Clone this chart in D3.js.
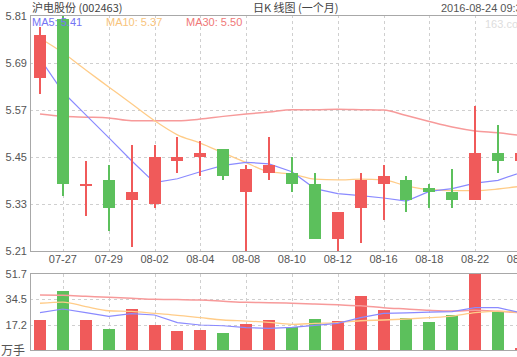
<!DOCTYPE html>
<html><head><meta charset="utf-8">
<script src="https://cdn.jsdelivr.net/npm/d3@7/dist/d3.min.js"></script>
<style>body{margin:0;background:#fff;overflow:hidden}svg{display:block}</style>
</head><body>
<svg id="c" width="517" height="357"></svg>
<script>
const dates = ["07-26","07-27","07-28","07-29","08-01","08-02","08-03","08-04","08-05","08-08","08-09","08-10","08-11","08-12","08-15","08-16","08-17","08-18","08-19","08-22","08-23","08-24"];
const tickDates = ["07-27","07-29","08-02","08-04","08-08","08-10","08-12","08-16","08-18","08-22","08-24"];
const open  = [5.65,5.80,5.38,5.39,5.34,5.33,5.44,5.45,5.47,5.36,5.41,5.41,5.38,5.24,5.32,5.38,5.39,5.37,5.36,5.34,5.46,5.44];
const close = [5.76,5.38,5.38,5.32,5.36,5.45,5.45,5.46,5.40,5.42,5.43,5.38,5.24,5.31,5.39,5.40,5.34,5.36,5.34,5.46,5.44,5.46];
const high  = [5.78,5.81,5.44,5.43,5.48,5.48,5.50,5.49,5.47,5.43,5.50,5.45,5.41,5.31,5.41,5.43,5.40,5.38,5.42,5.58,5.53,5.47];
const low   = [5.61,5.35,5.30,5.26,5.22,5.32,5.41,5.40,5.39,5.21,5.39,5.36,5.24,5.21,5.23,5.29,5.31,5.32,5.32,5.34,5.41,5.43];
const ma5   = [5.700,5.615,5.557,5.499,5.440,5.384,5.394,5.412,5.428,5.436,5.432,5.412,5.369,5.356,5.351,5.345,5.337,5.362,5.369,5.383,5.390,5.410];
const ma10  = [5.752,5.715,5.671,5.628,5.585,5.542,5.506,5.485,5.460,5.435,5.412,5.406,5.393,5.391,5.393,5.391,5.376,5.366,5.364,5.364,5.368,5.375];
const ma30  = [5.559,5.553,5.551,5.549,5.542,5.542,5.542,5.546,5.553,5.559,5.564,5.570,5.570,5.571,5.570,5.569,5.555,5.540,5.526,5.516,5.511,5.504];
const volume  = [20.4,40.1,20.4,14.3,27.9,17.0,12.9,13.6,11.6,17.7,20.4,15.4,21.1,19.7,36.7,27.2,21.8,19.0,23.8,51.7,26.5,1.5];
const volMa5  = [25.4,27.9,25.4,22.9,24.7,23.8,18.6,17.0,16.5,15.2,14.7,15.4,16.8,18.1,22.0,24.9,25.2,25.8,26.1,28.8,28.8,25.4];
const volMa10 = [31.8,32.6,29.5,26.7,26.3,24.9,23.6,22.0,20.4,19.7,18.8,17.5,18.1,18.6,19.9,20.4,21.1,22.0,23.1,25.4,26.5,25.4];
const volMa30 = [37.4,37.2,36.5,35.8,35.2,34.5,34.3,34.0,33.2,32.4,32.2,31.8,31.3,30.7,30.1,28.8,27.9,27.0,26.5,27.0,26.3,25.4];
const priceTicks = [5.81,5.69,5.57,5.45,5.33,5.21];
const volTicks = [51.7,34.5,17.2];
const title = "沪电股份 (002463)";
const subtitle = "日K 线图 (一个月)";
const stamp = "2016-08-24 09:35";
const legend = [["MA5: 5.41","#7474f4"],["MA10: 5.37","#f8c47c"],["MA30: 5.50","#f07878"]];

const RED="#f05a5a", GREEN="#5cc05c";
const C5="#8a8aff", C10="#ffcc88", C30="#f79a9a";
const font = "'Liberation Sans', Arial, sans-serif";
const cjk = "'Noto Sans CJK SC', sans-serif";

const svg = d3.select("#c");
const L = 30, R = 517;
const x = d3.scalePoint().domain(dates).range([40, 40 + 21*22.9]);
const y = d3.scaleLinear().domain([5.21,5.81]).range([251,15.5]);
const yv = d3.scaleLinear().domain([0,51.7]).range([350,274]);
const bw = 12;

// grid
const grid = svg.append("g").attr("stroke","#cfcfcf").attr("stroke-dasharray","3,3").attr("shape-rendering","crispEdges");
priceTicks.slice(1,-1).forEach(t=>grid.append("line").attr("x1",L).attr("x2",R).attr("y1",Math.round(y(t))+0.5).attr("y2",Math.round(y(t))+0.5));
volTicks.slice(1).forEach(t=>grid.append("line").attr("x1",L).attr("x2",R).attr("y1",Math.round(yv(t))+0.5).attr("y2",Math.round(yv(t))+0.5));
tickDates.forEach(d=>{
  const xx = Math.round(x(d))+0.5;
  grid.append("line").attr("x1",xx).attr("x2",xx).attr("y1",15).attr("y2",251);
  grid.append("line").attr("x1",xx).attr("x2",xx).attr("y1",274).attr("y2",350);
});

// frames
const fr = svg.append("g").attr("stroke","#a8a8a8").attr("shape-rendering","crispEdges");
fr.append("path").attr("fill","none").attr("d",`M${R},15.5H${L+0.5}V251.5H${R}`);
fr.append("path").attr("fill","none").attr("d",`M${R},273.5H${L+0.5}V350.5H${R}`);

// MA lines price
const line = (arr, sc, curve) => d3.line().x((d,i)=>x(dates[i])).y(d=>sc(d)).curve(curve)(arr);
svg.append("path").attr("d",line(ma30,y,d3.curveMonotoneX)).attr("fill","none").attr("stroke",C30).attr("stroke-width",1.5);
svg.append("path").attr("d",line(ma10,y,d3.curveMonotoneX)).attr("fill","none").attr("stroke",C10).attr("stroke-width",1.3);
svg.append("path").attr("d",line(ma5,y,d3.curveLinear)).attr("fill","none").attr("stroke",C5).attr("stroke-width",1.2);

// candles
const cg = svg.append("g").attr("shape-rendering","crispEdges");
dates.forEach((d,i)=>{
  const up = close[i] >= open[i];
  const col = up ? RED : GREEN;
  const cx = Math.round(x(d));
  cg.append("rect").attr("x",cx-1).attr("width",2).attr("y",y(high[i])).attr("height",Math.max(1,y(low[i])-y(high[i]))).attr("fill",col);
  const top = y(Math.max(open[i],close[i])), bot = y(Math.min(open[i],close[i]));
  cg.append("rect").attr("x",cx-bw/2).attr("width",bw).attr("y",top).attr("height",Math.max(2,bot-top)).attr("fill",col);
  cg.append("rect").attr("x",cx-bw/2).attr("width",bw).attr("y",yv(volume[i])).attr("height",350-yv(volume[i])).attr("fill",col);
});

// volume MA lines
svg.append("path").attr("d",line(volMa30,yv,d3.curveMonotoneX)).attr("fill","none").attr("stroke",C30).attr("stroke-width",1.5);
svg.append("path").attr("d",line(volMa10,yv,d3.curveMonotoneX)).attr("fill","none").attr("stroke",C10).attr("stroke-width",1.3);
svg.append("path").attr("d",line(volMa5,yv,d3.curveLinear)).attr("fill","none").attr("stroke",C5).attr("stroke-width",1.2);

// axis labels
const ax = svg.append("g").attr("font-family",font).attr("font-size","11px").attr("fill","#555");
priceTicks.forEach(t=>ax.append("text").attr("x",27).attr("y",y(t)+4).attr("text-anchor","end").text(t.toFixed(2)));
volTicks.forEach(t=>ax.append("text").attr("x",27).attr("y",yv(t)+4).attr("text-anchor","end").text(t.toFixed(1)));
ax.append("text").attr("x",1).attr("y",355).attr("font-family",cjk).attr("font-size","12px").text("万手");
tickDates.forEach(d=>ax.append("text").attr("x",x(d)).attr("y",263).attr("text-anchor","middle").text(d));

// titles
svg.append("text").attr("x",32).attr("y",12).attr("font-family",cjk).attr("font-size","11px").attr("fill","#444").text(title);
svg.append("text").attr("x",253).attr("y",12).attr("font-family",cjk).attr("font-size","11px").attr("fill","#444").text(subtitle);
svg.append("text").attr("x",441).attr("y",12).attr("font-family",font).attr("font-size","11px").attr("fill","#555").text(stamp);
svg.append("text").attr("x",485).attr("y",28).attr("font-family",font).attr("font-size","11px").attr("fill","#ddd").text("163.com");

const lx = [32,106,186];
legend.forEach((l,i)=>svg.append("text").attr("x",lx[i]).attr("y",26).attr("font-family",font).attr("font-size","11px").attr("fill",l[1]).text(l[0]));
</script>
</body></html>
